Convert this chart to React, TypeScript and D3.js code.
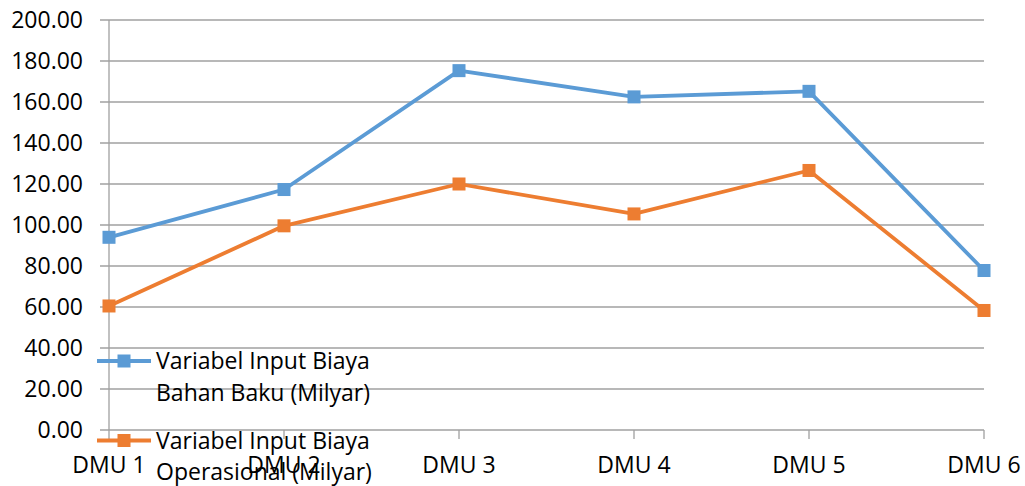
import React from "react";
import * as d3 from "d3";

const categories = ["DMU 1", "DMU 2", "DMU 3", "DMU 4", "DMU 5", "DMU 6"];
const bahanBaku = [94.0, 117.3, 175.3, 162.5, 165.2, 77.8];
const operasional = [60.5, 99.6, 120.0, 105.4, 126.6, 58.3];
const yTicks = [0, 20, 40, 60, 80, 100, 120, 140, 160, 180, 200];
const seriesNames = [
  ["Variabel Input Biaya", "Bahan Baku (Milyar)"],
  ["Variabel Input Biaya", "Operasional (Milyar)"],
];
const colors = ["#5B9BD5", "#ED7D31"];

const W = 1025;
const H = 486;
const FONT = "'Open Sans', Lato, sans-serif";
const FS = 23;

export default function App() {
  const x = d3.scalePoint<string>().domain(categories).range([109, 984]);
  const y = d3.scaleLinear().domain([0, 200]).range([430, 20]);
  const series = [bahanBaku, operasional];
  const line = d3
    .line<number>()
    .x((_, i) => x(categories[i]) as number)
    .y((d) => y(d));
  const grid = "#A0A0A0";
  const ms = 13;

  return (
    <svg
      width={W}
      height={H}
      style={{ position: "absolute", left: 0, top: 0, background: "#fff" }}
      fontFamily={FONT}
    >
      {yTicks.map((t) => (
        <g key={t}>
          <line x1={100} x2={984} y1={y(t)} y2={y(t)} stroke={grid} strokeWidth={1.3} />
          <text x={83} y={y(t) + 8} textAnchor="end" fontSize={FS} fill="#000">
            {t.toFixed(2)}
          </text>
        </g>
      ))}
      <line x1={109} x2={109} y1={y(200)} y2={y(0)} stroke={grid} strokeWidth={1.3} />
      {categories.map((c) => (
        <g key={c}>
          <line x1={x(c)} x2={x(c)} y1={y(0)} y2={y(0) + 9} stroke={grid} strokeWidth={1.3} />
          <text x={x(c)} y={473} textAnchor="middle" fontSize={FS} fill="#000">
            {c}
          </text>
        </g>
      ))}
      {series.map((s, si) => (
        <g key={si}>
          <path d={line(s) || ""} fill="none" stroke={colors[si]} strokeWidth={3.8} strokeLinejoin="round" />
          {s.map((v, i) => (
            <rect
              key={i}
              x={(x(categories[i]) as number) - ms / 2}
              y={y(v) - ms / 2}
              width={ms}
              height={ms}
              fill={colors[si]}
            />
          ))}
        </g>
      ))}
      {seriesNames.map((names, si) => {
        const cy = 361 + si * 79.5;
        return (
          <g key={si}>
            <line x1={97} x2={151} y1={cy} y2={cy} stroke={colors[si]} strokeWidth={3.8} />
            <rect x={124 - ms / 2} y={cy - ms / 2} width={ms} height={ms} fill={colors[si]} />
            {names.map((n, li) => (
              <text key={li} x={156} y={cy + 8 + li * 31.5} fontSize={FS} fill="#000">
                {n}
              </text>
            ))}
          </g>
        );
      })}
    </svg>
  );
}
